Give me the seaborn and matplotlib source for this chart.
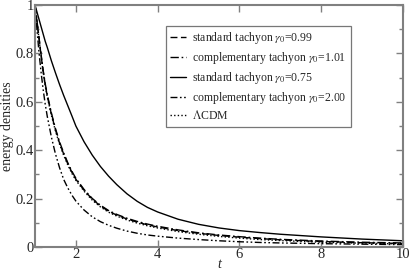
import numpy as np
import pandas as pd
import matplotlib
matplotlib.use("Agg")
import matplotlib.pyplot as plt
import seaborn as sns
from matplotlib.ticker import MultipleLocator, FormatStrFormatter

sns.set_style("ticks")
plt.rcParams['font.family'] = ['Liberation Serif', 'DejaVu Serif']
plt.rcParams['mathtext.fontset'] = 'stix'

t = [1.0, 1.05, 1.1, 1.15, 1.2, 1.25, 1.3, 1.4, 1.5, 1.6, 1.7, 1.8, 1.9, 2.0,
     2.2, 2.4, 2.6, 2.8, 3.0, 3.25, 3.5, 3.75, 4.0, 4.5, 5.0, 5.5, 6.0, 6.5,
     7.0, 8.0, 9.0, 10.0]

std_099 = [1.0, 0.93, 0.86, 0.79, 0.725, 0.67, 0.625, 0.55, 0.485, 0.43, 0.385,
           0.345, 0.31, 0.28, 0.235, 0.198, 0.170, 0.148, 0.132, 0.116, 0.103,
           0.092, 0.083, 0.068, 0.057, 0.048, 0.041, 0.035, 0.030, 0.023,
           0.018, 0.015]
comp_101 = [1.0, 0.932, 0.863, 0.794, 0.73, 0.675, 0.63, 0.555, 0.49, 0.435,
            0.39, 0.349, 0.314, 0.284, 0.238, 0.201, 0.173, 0.151, 0.135,
            0.119, 0.106, 0.095, 0.086, 0.071, 0.059, 0.050, 0.043, 0.037,
            0.032, 0.025, 0.020, 0.017]
std_075 = [1.0, 0.97, 0.94, 0.91, 0.88, 0.85, 0.825, 0.77, 0.72, 0.672, 0.627,
           0.585, 0.543, 0.50, 0.435, 0.38, 0.333, 0.293, 0.258, 0.220, 0.189,
           0.164, 0.145, 0.115, 0.094, 0.079, 0.068, 0.060, 0.053, 0.042,
           0.033, 0.026]
comp_200 = [1.0, 0.895, 0.80, 0.72, 0.65, 0.59, 0.54, 0.455, 0.385, 0.328,
            0.28, 0.245, 0.215, 0.19, 0.153, 0.125, 0.105, 0.09, 0.078, 0.066,
            0.057, 0.050, 0.045, 0.037, 0.031, 0.026, 0.022, 0.019, 0.017,
            0.014, 0.012, 0.010]
lcdm = [1.0, 0.928, 0.857, 0.787, 0.722, 0.666, 0.62, 0.545, 0.48, 0.425,
        0.38, 0.34, 0.305, 0.276, 0.231, 0.194, 0.166, 0.144, 0.128, 0.112,
        0.099, 0.088, 0.079, 0.064, 0.053, 0.044, 0.037, 0.031, 0.027, 0.020,
        0.016, 0.013]

labels = [r"standard tachyon $\gamma_0$=0.99",
          r"complementary tachyon $\gamma_0$=1.01",
          r"standard tachyon $\gamma_0$=0.75",
          r"complementary tachyon $\gamma_0$=2.00",
          r"$\Lambda$CDM"]
series = [std_099, comp_101, std_075, comp_200, lcdm]
styles = [(0, (5, 2.5)), (0, (6, 2, 1.2, 2)), '-',
          (0, (5, 1.8, 1.2, 1.8, 1.2, 1.8)), (0, (1, 1.6))]

fig = plt.figure(figsize=(4.09, 2.73), dpi=100)
ax = fig.add_axes([0.0856, 0.095, 0.8995, 0.8865])

for vals, lab, ls in zip(series, labels, styles):
    df = pd.DataFrame({"t": t, "v": vals})
    sns.lineplot(data=df, x="t", y="v", ax=ax, color="black", linewidth=1.0,
                 linestyle=ls, label=lab)

ax.set_xlim(1, 10)
ax.set_ylim(0, 1)
ax.xaxis.set_major_locator(MultipleLocator(2))
ax.yaxis.set_major_locator(MultipleLocator(0.2))
ax.yaxis.set_minor_locator(MultipleLocator(0.1))
ax.yaxis.set_major_formatter(FormatStrFormatter('%g'))
ax.tick_params(direction='in', which='both', top=True, right=True,
               color='#808080', labelsize=10.5, pad=1)
ax.tick_params(which='major', length=5, width=1)
ax.tick_params(which='minor', length=3, width=1)
for s in ax.spines.values():
    s.set_color('#808080')
    s.set_linewidth(1.5)

ax.set_xlabel("t", fontsize=10, fontstyle='italic')
ax.xaxis.set_label_coords(0.5, -0.045)
ax.xaxis.label.set_va('top')
ax.set_ylabel("energy densities", fontsize=10, labelpad=1)

leg = ax.legend(loc='upper left', bbox_to_anchor=(0.355, 0.915), fontsize=8.5,
                frameon=True, fancybox=False, handlelength=1.3,
                handletextpad=0.5, labelspacing=0.32, borderpad=0.4,
                borderaxespad=0)
leg.get_frame().set_edgecolor('#555555')
leg.get_frame().set_linewidth(0.9)

fig.savefig("out.png", dpi=100)
